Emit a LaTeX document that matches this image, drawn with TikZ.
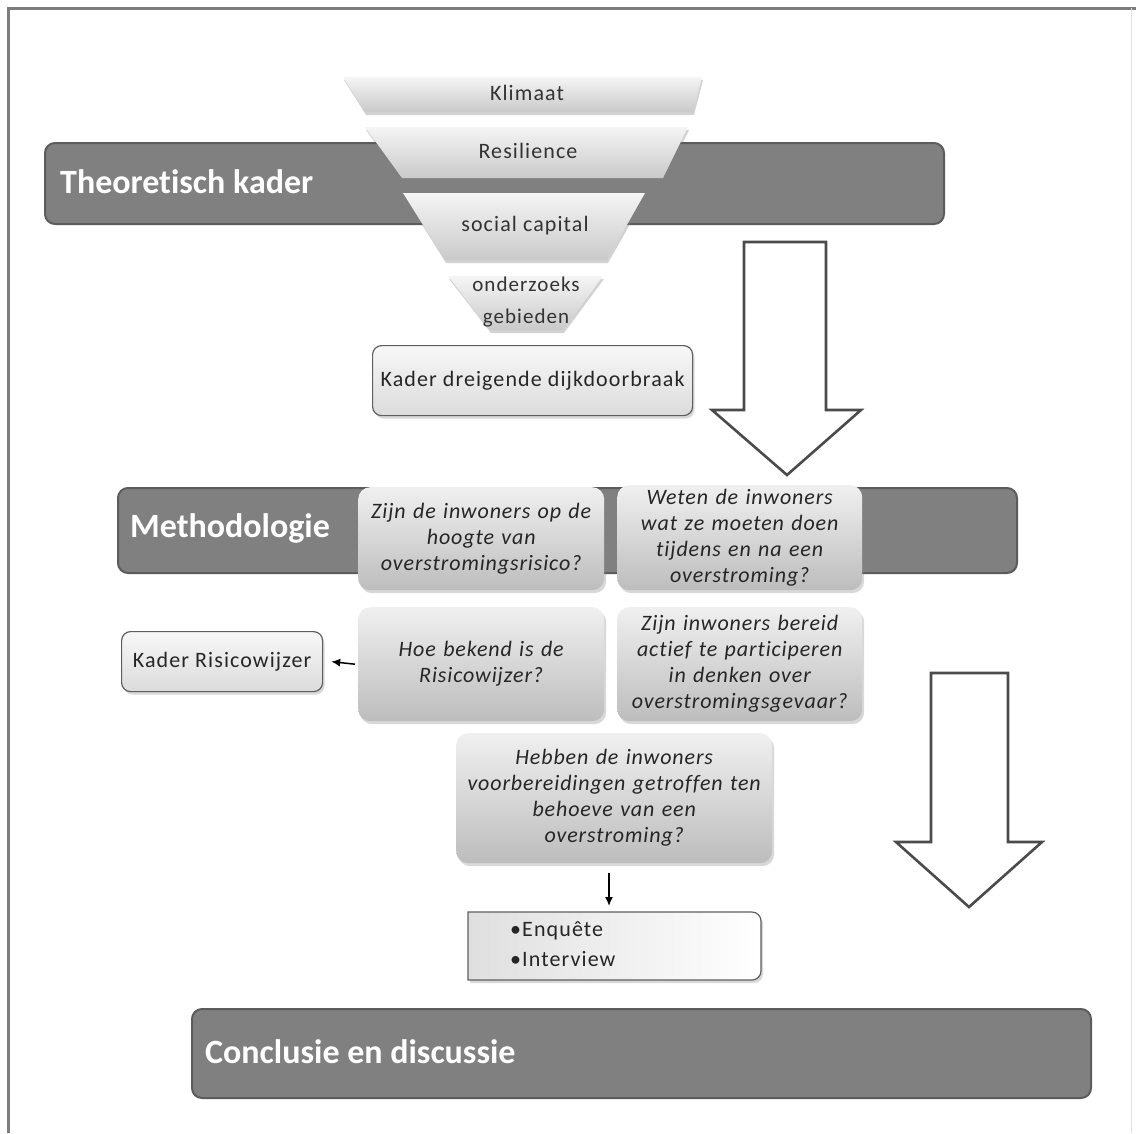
\documentclass[tikz,border=0pt]{standalone}
\usepackage{fontspec}
\setmainfont{Carlito}[Ligatures=NoCommon]
\newfontfamily\wfont[LetterSpace=5,Ligatures=NoCommon]{Carlito}
\newfontfamily\qfont[LetterSpace=4,Ligatures=NoCommon]{Carlito}
\usetikzlibrary{shadows,arrows.meta}
\definecolor{barfill}{RGB}{128,128,128}
\definecolor{barborder}{RGB}{92,92,92}
\definecolor{frameline}{RGB}{125,125,125}
\definecolor{boxborder}{RGB}{95,95,95}
\definecolor{arrowline}{RGB}{75,75,75}
\tikzset{
  bar/.style={draw=barborder, line width=2pt, fill=barfill, rounded corners=10pt,
    anchor=north west, inner sep=0pt},
  bartitle/.style={text=white, font=\bfseries\fontsize{34}{38}\selectfont, anchor=west, inner sep=0pt},
  funnelpart/.style={top color=gray!8, bottom color=gray!42, draw=none,
    drop shadow={shadow xshift=1pt, shadow yshift=-3pt, opacity=0.35}},
  funneltext/.style={font=\wfont\fontsize{22}{35}\selectfont, text=black!80, align=center, inner sep=0pt},
  qbox/.style={rounded corners=12pt, top color=gray!12, bottom color=gray!52, draw=none,
    drop shadow={shadow xshift=2pt, shadow yshift=-3pt, opacity=0.3},
    font=\qfont\itshape\fontsize{22}{26}\selectfont, align=center, text=black!85,
    anchor=north west, inner sep=2pt},
  kbox/.style={rounded corners=9pt, top color=gray!6, bottom color=gray!28, draw=boxborder, line width=1.2pt,
    drop shadow={shadow xshift=2pt, shadow yshift=-3pt, opacity=0.3},
    font=\wfont\fontsize{22}{26}\selectfont, text=black!85, anchor=north west, inner sep=0pt},
  blockarrow/.style={draw=arrowline, line width=2.6pt, fill=white, line join=miter},
  smallarrow/.style={-{Latex[length=9pt,width=8pt]}, line width=1.5pt, black}
}
\begin{document}
\begin{tikzpicture}[x=1pt,y=-1pt]
\useasboundingbox (0,0) rectangle (1138,1133);
\fill[white] (0,0) rectangle (1138,1133);
% frame
\draw[frameline, line width=3pt] (8,1133) -- (8,8) -- (1136,8);
\draw[gray!25, line width=1pt] (1131,8) -- (1131,1133);

% bars
\node[bar, minimum width=899pt, minimum height=81pt] (tk) at (44,142) {};
\node[bartitle] (tkt) at (60,182) {Theoretisch kader};
\node[bar, minimum width=899pt, minimum height=85pt] (me) at (117,487) {};
\node[bartitle] (met) at (130,528) {Methodologie};
\node[bar, minimum width=899pt, minimum height=89pt] (co) at (191,1008) {};
\node[bartitle] (cot) at (205,1052) {Conclusie en discussie};

% funnel
\path[funnelpart] (343,77) -- (702,77) -- (693,112) -- (365,112) -- cycle;
\node[funneltext] (f1) at (527,93) {Klimaat};
\path[funnelpart] (365,127) -- (688,127) -- (663,178) -- (402,178) -- cycle;
\node[funneltext] (f2) at (528,151) {Resilience};
\path[funnelpart] (403,193) -- (645,193) -- (607,260) -- (445,260) -- cycle;
\node[funneltext] (f3) at (525,226) {social capital};
\path[funnelpart] (448,276) -- (603,276) -- (563,330) -- (490,330) -- cycle;
\node[funneltext, font=\wfont\fontsize{21}{30}\selectfont] (f4a) at (526,284) {onderzoeks};
\node[funneltext, font=\wfont\fontsize{21}{30}\selectfont] (f4b) at (526,318) {gebieden};

% Kader dreigende dijkdoorbraak
\node[kbox, minimum width=320pt, minimum height=70pt] (kd) at (372,345) {Kader dreigende dijkdoorbraak};

% big arrows
\path[blockarrow] (744,242) -- (826,242) -- (826,410) -- (861,410) -- (787,475) -- (712,410) -- (744,410) -- cycle;
\path[blockarrow] (931,673) -- (1008,673) -- (1008,842) -- (1042,842) -- (969,907) -- (896,842) -- (931,842) -- cycle;

% question boxes
\node[qbox, minimum width=246pt, minimum height=103pt, text width=240pt] (q1) at (358,487)
  {Zijn de inwoners op de\\hoogte van\\overstromingsrisico?};
\node[qbox, minimum width=245pt, minimum height=105pt, text width=240pt] (q2) at (617,485)
  {Weten de inwoners\\wat ze moeten doen\\tijdens en na een\\overstroming?};
\node[qbox, minimum width=246pt, minimum height=114pt, text width=240pt] (q3) at (358,607)
  {Hoe bekend is de\\Risicowijzer?};
\node[qbox, minimum width=245pt, minimum height=114pt, text width=240pt] (q4) at (617,607)
  {Zijn inwoners bereid\\actief te participeren\\in denken over\\overstromingsgevaar?};
\node[qbox, minimum width=316pt, minimum height=130pt, text width=310pt] (q5) at (456,733)
  {Hebben de inwoners\\voorbereidingen getroffen ten\\behoeve van een\\overstroming?};

% Kader Risicowijzer
\node[kbox, minimum width=201pt, minimum height=60pt] (kr) at (121,631) {Kader Risicowijzer};

% Enquete box
\path[draw=boxborder, line width=1.2pt, left color=gray!25, right color=white,
      drop shadow={shadow xshift=2pt, shadow yshift=-3pt, opacity=0.3}]
  (468,980) -- (468,912) [rounded corners=9pt] -- (761,912) -- (761,980) [sharp corners] -- cycle;
\coordinate (enqtop) at (609,912);
\node[font=\wfont\fontsize{22}{30}\selectfont, text=black!85, align=left, anchor=north west, inner sep=0pt] (enq) at (510,921)
  {\textbullet Enquête\\\textbullet Interview};

% small arrows
\draw[smallarrow] ([xshift=-3pt]q3.west) -- ([xshift=8pt]kr.east);
\draw[smallarrow] ([yshift=-10pt]q5.south -| enqtop) -- ([yshift=6pt]enqtop);
\end{tikzpicture}
\end{document}
